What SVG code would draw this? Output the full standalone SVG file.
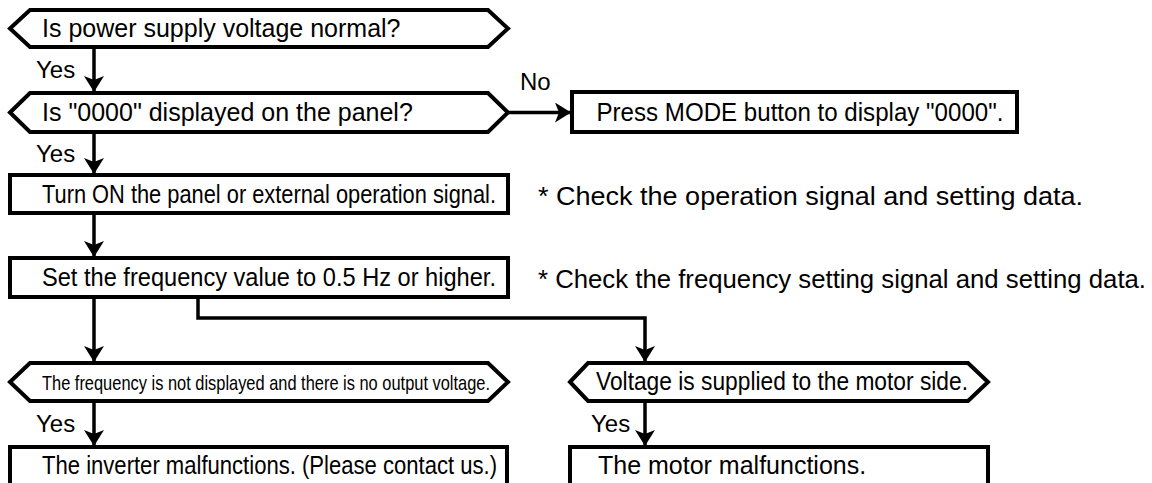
<svg xmlns="http://www.w3.org/2000/svg" width="1152" height="483" viewBox="0 0 1152 483">
<style>
.shape{fill:#fff;stroke:#000;stroke-width:4;stroke-linejoin:miter}
.line{fill:none;stroke:#000;stroke-width:3.5}
.t{font-family:"Liberation Sans",Arial,sans-serif;font-size:25px;fill:#000}
.lbl{font-family:"Liberation Sans",Arial,sans-serif;font-size:24px;fill:#000}
</style>
<defs>
<marker id="ah" viewBox="0 0 16 20" refX="16" refY="10" markerWidth="16" markerHeight="20" markerUnits="userSpaceOnUse" orient="auto">
<path d="M0,0 L16,10 L0,20 L4,10 Z" fill="#000"/>
</marker>
</defs>
<rect width="1152" height="483" fill="#fff"/>
<g id="connectors">
<line class="line" x1="94" y1="47" x2="94" y2="92" marker-end="url(#ah)"/>
<line class="line" x1="508" y1="112.5" x2="571" y2="112.5" marker-end="url(#ah)"/>
<line class="line" x1="94" y1="132" x2="94" y2="174" marker-end="url(#ah)"/>
<line class="line" x1="94" y1="213" x2="94" y2="257" marker-end="url(#ah)"/>
<line class="line" x1="94" y1="297" x2="94" y2="362" marker-end="url(#ah)"/>
<polyline class="line" points="198,297 198,318 645,318 645,362" marker-end="url(#ah)"/>
<line class="line" x1="94" y1="401" x2="94" y2="446" marker-end="url(#ah)"/>
<line class="line" x1="645" y1="401" x2="645" y2="446" marker-end="url(#ah)"/>
<text class="lbl" x="36" y="78">Yes</text>
<text class="lbl" x="520" y="90">No</text>
<text class="lbl" x="36" y="162">Yes</text>
<text class="lbl" x="36" y="432">Yes</text>
<text class="lbl" x="591" y="432">Yes</text>
</g>
<g id="q1">
<polygon class="shape" points="10,28.5 30,10 488,10 508,28.5 488,47 30,47"/>
<text class="t" x="42" y="37">Is power supply voltage normal?</text>
</g>
<g id="q2">
<polygon class="shape" points="10,112.5 30,93 488,93 508,112.5 488,132 30,132"/>
<text class="t" x="42" y="121">Is "0000" displayed on the panel?</text>
</g>
<g id="press">
<rect class="shape" x="572" y="92" width="445" height="40"/>
<text class="t" x="800" y="121" text-anchor="middle" textLength="407" lengthAdjust="spacingAndGlyphs">Press MODE button to display "0000".</text>
</g>
<g id="turnon">
<rect class="shape" x="10" y="175" width="498" height="38"/>
<text class="t" x="42" y="203" textLength="454" lengthAdjust="spacingAndGlyphs">Turn ON the panel or external operation signal.</text>
</g>
<text class="t" x="538" y="205" textLength="545" lengthAdjust="spacingAndGlyphs">* Check the operation signal and setting data.</text>
<g id="setfreq">
<rect class="shape" x="10" y="258" width="498" height="39"/>
<text class="t" x="42" y="286" textLength="454" lengthAdjust="spacingAndGlyphs">Set the frequency value to 0.5 Hz or higher.</text>
</g>
<text class="t" x="538" y="288" textLength="608" lengthAdjust="spacingAndGlyphs">* Check the frequency setting signal and setting data.</text>
<g id="q5">
<polygon class="shape" points="10,382 30,363 488,363 508,382 488,401 30,401"/>
<text class="t" x="42" y="390" style="font-size:21px" textLength="448" lengthAdjust="spacingAndGlyphs">The frequency is not displayed and there is no output voltage.</text>
</g>
<g id="q6">
<polygon class="shape" points="570,382 588,363 968,363 988,382 968,401 588,401"/>
<text class="t" x="596" y="390" textLength="372" lengthAdjust="spacingAndGlyphs">Voltage is supplied to the motor side.</text>
</g>
<g id="inverter">
<rect class="shape" x="10" y="447" width="497" height="50"/>
<text class="t" x="42" y="474" textLength="455" lengthAdjust="spacingAndGlyphs">The inverter malfunctions. (Please contact us.)</text>
</g>
<g id="motor">
<rect class="shape" x="570" y="447" width="418" height="50"/>
<text class="t" x="598" y="474">The motor malfunctions.</text>
</g>
</svg>
